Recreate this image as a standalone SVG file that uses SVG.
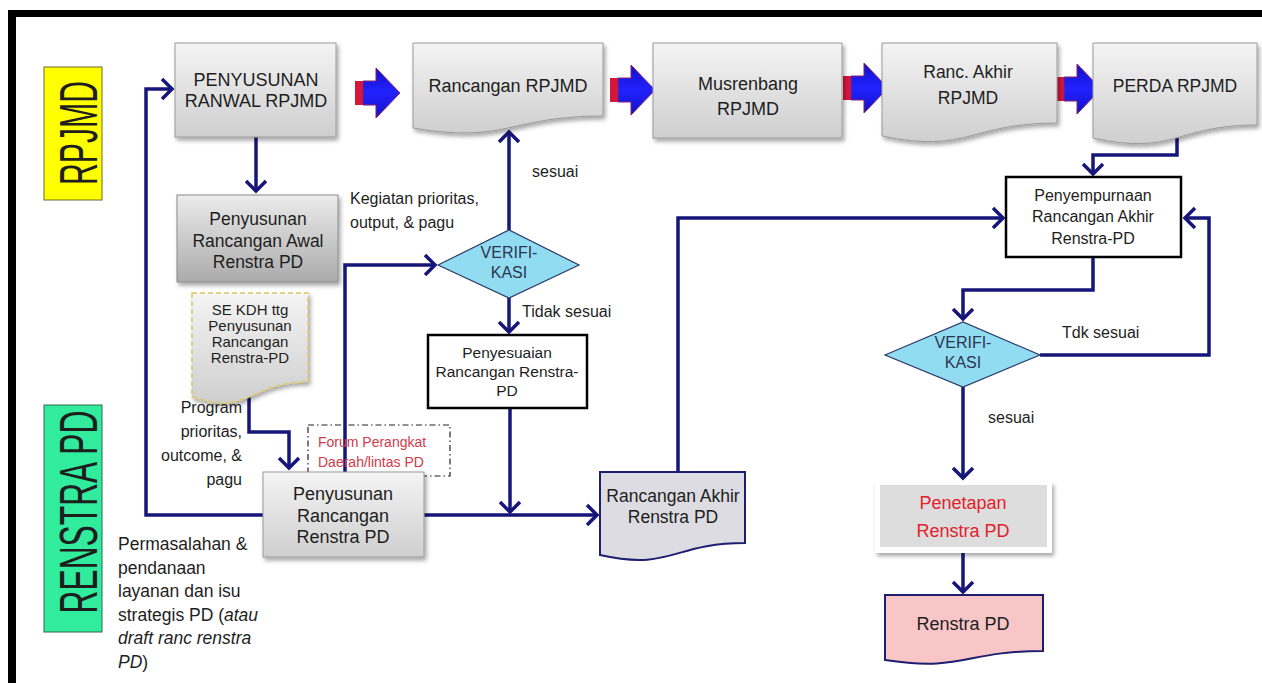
<svg xmlns="http://www.w3.org/2000/svg" width="1262" height="683" viewBox="0 0 1262 683">
<style>
text{font-family:"Liberation Sans",Arial,sans-serif;fill:#1e1e1e}
.c{text-anchor:middle}
.f18{font-size:18px}
.f17{font-size:17.5px}
.f16{font-size:16px}
.f15{font-size:15px}
.conn{fill:none;stroke:#16167a;stroke-width:3.5;stroke-linejoin:miter}
.arr{marker-end:url(#ah)}
.gbox{fill:url(#gGrad);stroke:#9a9a9a;stroke-width:1;filter:url(#sh)}
.wbox{fill:#ffffff;stroke:#000000;stroke-width:2.5}
.dia{fill:#92dcf2;stroke:#2a3a6a;stroke-width:1.2}
.dtext{fill:#2c3550;font-size:16px;text-anchor:middle}
</style>
<defs>
<linearGradient id="gGrad" x1="0" y1="0" x2="0" y2="1">
<stop offset="0" stop-color="#f4f4f4"/>
<stop offset="1" stop-color="#cfcfcf"/>
</linearGradient>
<linearGradient id="gGrad2" x1="0" y1="0" x2="0" y2="1">
<stop offset="0" stop-color="#ececec"/>
<stop offset="1" stop-color="#ababab"/>
</linearGradient>
<linearGradient id="blueGrad" x1="0" y1="0" x2="0" y2="1">
<stop offset="0" stop-color="#1010c8"/>
<stop offset="0.5" stop-color="#2222ff"/>
<stop offset="1" stop-color="#1010c8"/>
</linearGradient>
<filter id="sh" x="-10%" y="-10%" width="125%" height="130%">
<feDropShadow dx="2" dy="3" stdDeviation="2" flood-color="#000" flood-opacity="0.35"/>
</filter>
<marker id="ah" markerUnits="userSpaceOnUse" markerWidth="26" markerHeight="26" viewBox="-13 -13 26 26" refX="0" refY="0" orient="auto" overflow="visible">
<path d="M-10,-10 L0,0 L-10,10" fill="none" stroke="#16167a" stroke-width="3.5"/>
</marker>
<g id="bigArrow">
<rect x="0" y="-12" width="8" height="24" fill="#d8163a"/>
<path d="M8,-12 H21 V-25 L45,0 L21,25 V12 H8 Z" fill="url(#blueGrad)" stroke="#8a2070" stroke-width="1"/>
</g>
</defs>

<rect x="0" y="0" width="1262" height="683" fill="#ffffff"/>
<g id="frame">
<rect x="8" y="10" width="1254" height="7" fill="#000"/>
<rect x="8" y="10" width="8" height="673" fill="#000"/>
</g>

<g id="label-rpjmd">
<rect x="44" y="67" width="58" height="133" fill="#ffff00" stroke="#6a6a30" stroke-width="1"/>
<text transform="translate(97,133) rotate(-90)" class="c" font-size="54" textLength="104" lengthAdjust="spacingAndGlyphs">RPJMD</text>
</g>
<g id="label-renstra">
<rect x="44" y="405" width="58" height="227" fill="#30ec9c" stroke="#2a6a4a" stroke-width="1"/>
<text transform="translate(97,512) rotate(-90)" class="c" font-size="54" textLength="203" lengthAdjust="spacingAndGlyphs">RENSTRA PD</text>
</g>

<g id="connectors">
<path class="conn arr" d="M256,137 V191"/>
<path class="conn arr" d="M263,515 H146 V89 H172"/>
<path class="conn arr" d="M249,393 V432 H289 V468"/>
<path class="conn arr" d="M345,472 V265 H435"/>
<path class="conn arr" d="M509,230 V132"/>
<path class="conn arr" d="M509,298 V332"/>
<path class="conn arr" d="M510,408 V512"/>
<path class="conn arr" d="M424,515 H597"/>
<path class="conn arr" d="M678,472 V218 H1003"/>
<path class="conn arr" d="M1177,137 V155 H1093 V174"/>
<path class="conn arr" d="M1093,257 V290 H963 V319"/>
<path class="conn arr" d="M1040,355 H1209 V218 H1185"/>
<path class="conn arr" d="M963,387 V478"/>
<path class="conn arr" d="M963,553 V592"/>
</g>

<g id="big-arrows">
<use href="#bigArrow" transform="translate(355,93)"/>
<use href="#bigArrow" transform="translate(610,90)"/>
<use href="#bigArrow" transform="translate(843,88)"/>
<use href="#bigArrow" transform="translate(1056,89)"/>
</g>

<g id="n-ranwal">
<rect class="gbox" x="175" y="43" width="161" height="94"/>
<text class="c f18" x="256" y="86">PENYUSUNAN</text>
<text class="c f18" x="256" y="107">RANWAL  RPJMD</text>
</g>

<g id="n-rancangan-rpjmd">
<path class="gbox" d="M413,43 H603 V116 C508,116 508,144 413,128 Z"/>
<text class="c f18" x="508" y="92">Rancangan RPJMD</text>
</g>

<g id="n-musrenbang">
<rect class="gbox" x="653" y="43" width="189" height="95"/>
<text class="c f18" x="748" y="90">Musrenbang</text>
<text class="c f18" x="748" y="115">RPJMD</text>
</g>

<g id="n-ranc-akhir-rpjmd">
<path class="gbox" d="M882,43 H1057 V123 C969,123 969,154 882,136 Z"/>
<text class="c f17" x="968" y="78">Ranc. Akhir</text>
<text class="c f17" x="968" y="104">RPJMD</text>
</g>

<g id="n-perda">
<path class="gbox" d="M1093,43 H1257 V125 C1175,125 1175,156 1093,138 Z"/>
<text class="c f17" x="1175" y="92">PERDA RPJMD</text>
</g>

<g id="n-awal-renstra">
<rect x="177" y="195" width="161" height="87" fill="url(#gGrad2)" stroke="#8a8a8a" stroke-width="1" filter="url(#sh)"/>
<text class="c f17" x="258" y="225">Penyusunan</text>
<text class="c f17" x="258" y="247">Rancangan Awal</text>
<text class="c f17" x="258" y="268">Renstra PD</text>
</g>

<g id="n-se-kdh">
<path d="M192,293 H308 V382 C250,382 250,416 192,397 Z" fill="url(#gGrad)" stroke="#e0c860" stroke-width="1.5" stroke-dasharray="5,3" filter="url(#sh)"/>
<text class="c f15" x="250" y="315">SE KDH  ttg</text>
<text class="c f15" x="250" y="331">Penyusunan</text>
<text class="c f15" x="250" y="347">Rancangan</text>
<text class="c f15" x="250" y="363">Renstra-PD</text>
</g>

<g id="lbl-kegiatan">
<text class="f16" x="350" y="204">Kegiatan  prioritas,</text>
<text class="f16" x="350" y="228">output, &amp; pagu</text>
</g>
<text class="f16" x="532" y="177">sesuai</text>

<g id="n-verifikasi-1">
<polygon class="dia" points="438,265 509,230 579,265 509,298"/>
<text class="dtext" x="509" y="258">VERIFI-</text>
<text class="dtext" x="509" y="278">KASI</text>
</g>
<text class="f16" x="522" y="317">Tidak sesuai</text>

<g id="n-penyesuaian">
<rect class="wbox" x="428" y="335" width="159" height="73"/>
<text class="c" font-size="15.5px" x="507" y="358">Penyesuaian</text>
<text class="c" font-size="15.5px" x="507" y="377">Rancangan Renstra-</text>
<text class="c" font-size="15.5px" x="507" y="396">PD</text>
</g>

<g id="lbl-program">
<text class="f16" x="242" y="413" text-anchor="end">Program</text>
<text class="f16" x="242" y="437" text-anchor="end">prioritas,</text>
<text class="f16" x="242" y="461" text-anchor="end">outcome, &amp;</text>
<text class="f16" x="242" y="485" text-anchor="end">pagu</text>
</g>

<g id="n-forum">
<rect x="308" y="425" width="142" height="51" fill="none" stroke="#222" stroke-width="1.2" stroke-dasharray="6,3,1.5,3"/>
<text x="318" y="447" font-size="14px" style="fill:#d23a4a">Forum Perangkat</text>
<text x="318" y="467" font-size="14px" style="fill:#d23a4a">Daerah/lintas PD</text>
</g>

<g id="n-penyusunan-renstra">
<rect class="gbox" x="263" y="472" width="161" height="85"/>
<text class="c f18" x="343" y="500">Penyusunan</text>
<text class="c f18" x="343" y="522">Rancangan</text>
<text class="c f18" x="343" y="543">Renstra PD</text>
</g>

<g id="lbl-permasalahan">
<text class="f17" x="118" y="550">Permasalahan &amp;</text>
<text class="f17" x="118" y="574">pendanaan</text>
<text class="f17" x="118" y="597">layanan dan isu</text>
<text class="f17" x="118" y="621">strategis PD (<tspan font-style="italic">atau</tspan></text>
<text class="f17" x="118" y="644" font-style="italic">draft ranc renstra</text>
<text class="f17" x="118" y="668"><tspan font-style="italic">PD</tspan>)</text>
</g>

<g id="n-rancangan-akhir-renstra">
<path d="M600,472 H745 V543 C672,543 672,571 600,555 Z" fill="#dcdce2" stroke="#1e1e70" stroke-width="2"/>
<text class="c f17" x="673" y="502">Rancangan Akhir</text>
<text class="c f17" x="673" y="523">Renstra PD</text>
</g>

<g id="n-penyempurnaan">
<rect class="wbox" x="1006" y="177" width="175" height="80"/>
<text class="c f16" x="1093" y="201">Penyempurnaan</text>
<text class="c f16" x="1093" y="222">Rancangan Akhir</text>
<text class="c f16" x="1093" y="244">Renstra-PD</text>
</g>

<g id="n-verifikasi-2">
<polygon class="dia" points="885,355 963,322 1040,355 963,387"/>
<text class="dtext" x="963" y="348">VERIFI-</text>
<text class="dtext" x="963" y="368">KASI</text>
</g>
<text class="f16" x="1062" y="338">Tdk sesuai</text>
<text class="f16" x="988" y="423">sesuai</text>

<g id="n-penetapan">
<rect x="875" y="482" width="177" height="71" fill="#ffffff" filter="url(#sh)"/>
<rect x="880" y="485" width="167" height="62" fill="#dddddd"/>
<text class="c f18" x="963" y="509" style="fill:#e3202c">Penetapan</text>
<text class="c f18" x="963" y="537" style="fill:#e3202c">Renstra PD</text>
</g>

<g id="n-renstra-pd">
<path d="M885,595 H1043 V651 C964,651 964,672 885,660 Z" fill="#f8c6c6" stroke="#1e1e70" stroke-width="2"/>
<text class="c f18" x="963" y="630">Renstra PD</text>
</g>
</svg>
